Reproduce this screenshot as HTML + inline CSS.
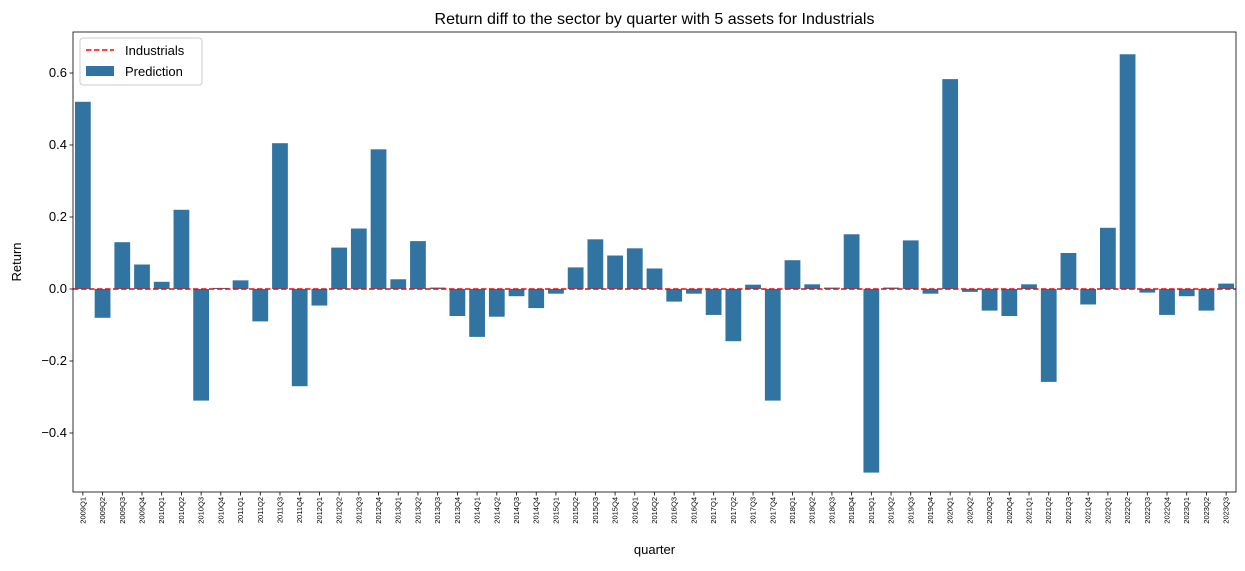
<!DOCTYPE html>
<html><head><meta charset="utf-8"><style>
body{margin:0;background:#fff;font-family:"Liberation Sans","DejaVu Sans",sans-serif;}
svg text{font-family:"Liberation Sans","DejaVu Sans",sans-serif;}
</style></head><body>
<svg id="chart" width="1245" height="566" xmlns="http://www.w3.org/2000/svg"></svg>
<script>
const categories=["2009Q1","2009Q2","2009Q3","2009Q4","2010Q1","2010Q2","2010Q3","2010Q4","2011Q1","2011Q2","2011Q3","2011Q4","2012Q1","2012Q2","2012Q3","2012Q4","2013Q1","2013Q2","2013Q3","2013Q4","2014Q1","2014Q2","2014Q3","2014Q4","2015Q1","2015Q2","2015Q3","2015Q4","2016Q1","2016Q2","2016Q3","2016Q4","2017Q1","2017Q2","2017Q3","2017Q4","2018Q1","2018Q2","2018Q3","2018Q4","2019Q1","2019Q2","2019Q3","2019Q4","2020Q1","2020Q2","2020Q3","2020Q4","2021Q1","2021Q2","2021Q3","2021Q4","2022Q1","2022Q2","2022Q3","2022Q4","2023Q1","2023Q2","2023Q3"];
const predictions=[0.52,-0.08,0.13,0.068,0.02,0.22,-0.31,0.003,0.024,-0.09,0.405,-0.27,-0.046,0.115,0.168,0.388,0.027,0.133,0.004,-0.075,-0.133,-0.077,-0.02,-0.053,-0.013,0.06,0.138,0.093,0.113,0.057,-0.035,-0.013,-0.072,-0.145,0.012,-0.31,0.08,0.013,0.004,0.152,-0.51,0.004,0.135,-0.013,0.583,-0.008,-0.06,-0.075,0.013,-0.258,0.1,-0.043,0.17,0.652,-0.01,-0.072,-0.02,-0.06,0.015];
const sectorValue=[0];
const yTicks=[-0.4,-0.2,0.0,0.2,0.4,0.6];
const yTickLabels=["−0.4","−0.2","0.0","0.2","0.4","0.6"];

const NS="http://www.w3.org/2000/svg";
const svg=document.getElementById('chart');
const L=73,R=1236,T=32,B=492;
const y=v=>289-v*360;
const slot=(R-L)/categories.length;
const x=i=>L+slot*(i+0.5);
function mk(tag,attrs,txt){const e=document.createElementNS(NS,tag);for(const k in attrs)e.setAttribute(k,attrs[k]);if(txt!==undefined)e.textContent=txt;svg.appendChild(e);return e;}

predictions.forEach((v,i)=>{
  const b=mk('rect',{x:x(i)-slot*0.4,y:Math.min(y(v),y(0)),width:slot*0.8,height:Math.abs(y(v)-y(0)),fill:'#3274a1'});
  
  
});
const ln=mk('line',{x1:L,x2:R,y1:y(sectorValue[0]),y2:y(sectorValue[0]),stroke:'#ff0000','stroke-width':1.5,'stroke-dasharray':'5.5,2.5'});



const fr=mk('rect',{x:L,y:T,width:R-L,height:B-T,fill:'none',stroke:'#000','stroke-width':0.8});



yTicks.forEach((t,i)=>{
  mk('line',{x1:L-3.5,x2:L,y1:y(t),y2:y(t),stroke:'#000','stroke-width':0.8});
  const lb=mk('text',{x:L-6,y:y(t)+4,'text-anchor':'end','font-size':13,fill:'#000'},yTickLabels[i]);
  
  
});
categories.forEach((c,i)=>{
  mk('line',{x1:x(i),x2:x(i),y1:B,y2:B+3.5,stroke:'#000','stroke-width':0.8});
  const lb=mk('text',{x:0,y:0,'font-size':7.5,'text-anchor':'end',transform:`translate(${x(i)+2.5},${B+5}) rotate(-90)`,fill:'#000'},c);
  
  
});
const tt=mk('text',{x:(L+R)/2,y:24,'text-anchor':'middle','font-size':16,fill:'#000'},'Return diff to the sector by quarter with 5 assets for Industrials');


const xt=mk('text',{x:(L+R)/2,y:554,'text-anchor':'middle','font-size':13,fill:'#000'},'quarter');


const yt=mk('text',{x:0,y:0,'text-anchor':'middle','font-size':13,fill:'#000',transform:'translate(21,262) rotate(-90)'},'Return');



const lg=mk('rect',{x:80,y:38,width:122,height:47,rx:3,fill:'#fff','fill-opacity':0.8,stroke:'#ccc'});


mk('line',{x1:86,x2:114,y1:50,y2:50,stroke:'#ff0000','stroke-width':1.5,'stroke-dasharray':'5.5,2.5'});
const l1=mk('text',{x:125,y:55,'font-size':13,fill:'#000'},'Industrials');


mk('rect',{x:86,y:66,width:28,height:10,fill:'#3274a1'});
const l2=mk('text',{x:125,y:76,'font-size':13,fill:'#000'},'Prediction');


</script>
</body></html>
